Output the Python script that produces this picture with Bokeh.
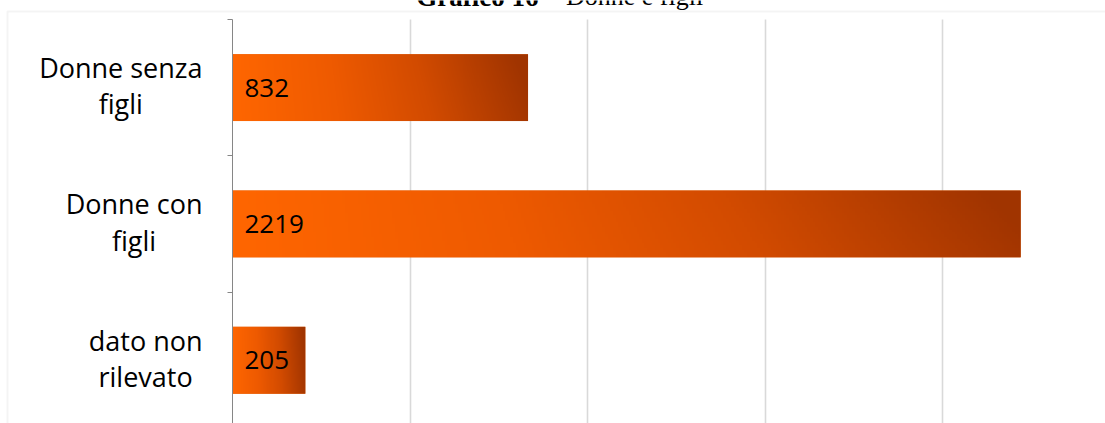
import numpy as np
from bokeh.plotting import figure
from bokeh.models import Range1d, FixedTicker, Label, BoxAnnotation, Grid
from bokeh.core.properties import value
from bokeh.embed import file_html
from bokeh.resources import INLINE

# ---- data ----
categories = ["Donne senza\nfigli", "Donne con\nfigli", "dato non\nrilevato"]
counts = [832, 2219, 205]
x_grid_ticks = [500, 1000, 1500, 2000, 2500]
title_bold = "Grafico 16"
title_rest = "– Donne e figli"

# gradient stops (position, rgb)
grad_pos = [0.0, 0.35, 0.65, 1.0]
grad_rgb = [(255, 102, 0), (238, 90, 0), (210, 75, 0), (160, 52, 0)]

W, H = 1105, 423
AXIS_X, AXIS_TOP = 232, 19          # pixel position of the value-axis origin / plot top
BAND = 136.3                         # pixels per category band
PX_PER_UNIT = 177.6 / 500            # pixels per count unit

n = len(categories)
centers = [i + 0.5 for i in range(n)]
bounds_y = [float(i) for i in range(n + 1)]
bar_h = 0.49

p = figure(width=W, height=H, output_backend="svg", toolbar_location=None,
           x_range=Range1d(-AXIS_X / PX_PER_UNIT, (W - AXIS_X) / PX_PER_UNIT),
           y_range=Range1d((H - AXIS_TOP) / BAND, -AXIS_TOP / BAND),
           x_axis_location=None,
           min_border_left=0, min_border_top=0, min_border_bottom=0, min_border_right=0)
p.outline_line_color = None
p.background_fill_color = "white"
p.border_fill_color = "white"
for g in p.grid:
    g.visible = False

grid = Grid(dimension=0, ticker=FixedTicker(ticks=x_grid_ticks),
            grid_line_color="#d9d9d9", grid_line_width=1.6)
if "cross_bounds" in Grid.properties():
    grid.cross_bounds = (0, float(n) + 0.5)
p.add_layout(grid)
if "cross_bounds" not in Grid.properties():
    p.add_layout(BoxAnnotation(top=H, bottom=H - AXIS_TOP, left=0, right=W,
                               top_units="screen", bottom_units="screen",
                               left_units="screen", right_units="screen",
                               fill_color="white", fill_alpha=1, line_color=None,
                               level="underlay"))

# category axis: line at value 0, ticks between categories
ax = p.yaxis[0]
ax.fixed_location = 0
ax.bounds = (0, float(n) + 0.5)
ax.ticker = FixedTicker(ticks=[], minor_ticks=bounds_y)
ax.major_tick_line_color = None
ax.minor_tick_line_color = "#868686"
ax.minor_tick_in = 0
ax.minor_tick_out = 5
ax.axis_line_color = "#868686"
ax.axis_line_width = 1

# category labels (block right-aligned, lines centred)
p.text(x=[0] * n, y=centers, text=categories, x_offset=-30, y_offset=-2,
       anchor="center_right", text_align="center", text_baseline="middle",
       text_font=value("Open Sans"), text_font_size="27px", text_color="black",
       text_line_height=0.98)

# gradient bars
def gradient_image(rows=30, cols=300):
    u = np.linspace(0, 1, cols)[None, :]
    v = np.linspace(0, 1, rows)[:, None]
    t = np.clip(u + (0.5 - v) * 0.08 * u, 0, 1)
    img = np.empty((rows, cols), dtype=np.uint32)
    view = img.view(dtype=np.uint8).reshape((rows, cols, 4))
    for ch in range(3):
        view[:, :, ch] = np.interp(t, grad_pos, [c[ch] for c in grad_rgb]).astype(np.uint8)
    view[:, :, 3] = 255
    return img

p.hbar(y=centers, right=counts, left=0, height=bar_h, fill_color="#e05a00", line_color=None)
for c, v in zip(centers, counts):
    p.image_rgba(image=[gradient_image()], x=0, y=c - bar_h / 2, dw=v, dh=bar_h)

p.text(x=[0] * n, y=centers, text=[str(v) for v in counts], x_offset=12,
       text_baseline="middle", text_align="left", text_font=value("Open Sans"),
       text_font_size="26px", text_color="black")

# chart border (top & left)
border = BoxAnnotation(left=7, right=W + 50, top=H - 11, bottom=-100,
                       left_units="screen", right_units="screen",
                       top_units="screen", bottom_units="screen",
                       fill_alpha=0, line_color="#d9d9d9", line_width=2)
p.add_layout(border)

# title (cut at the top)
t1 = Label(x=538, y=H + 4, x_units="screen", y_units="screen",
           text=title_bold, text_align="right", text_baseline="alphabetic",
           text_font="Liberation Serif", text_font_style="bold", text_font_size="27px",
           text_color="black")
t2 = Label(x=546, y=H + 4, x_units="screen", y_units="screen",
           text=title_rest, text_align="left", text_baseline="alphabetic",
           text_font="Liberation Serif", text_font_size="26px", text_color="black")
p.add_layout(t1)
p.add_layout(t2)

open("out.html", "w").write(file_html(p, INLINE))
